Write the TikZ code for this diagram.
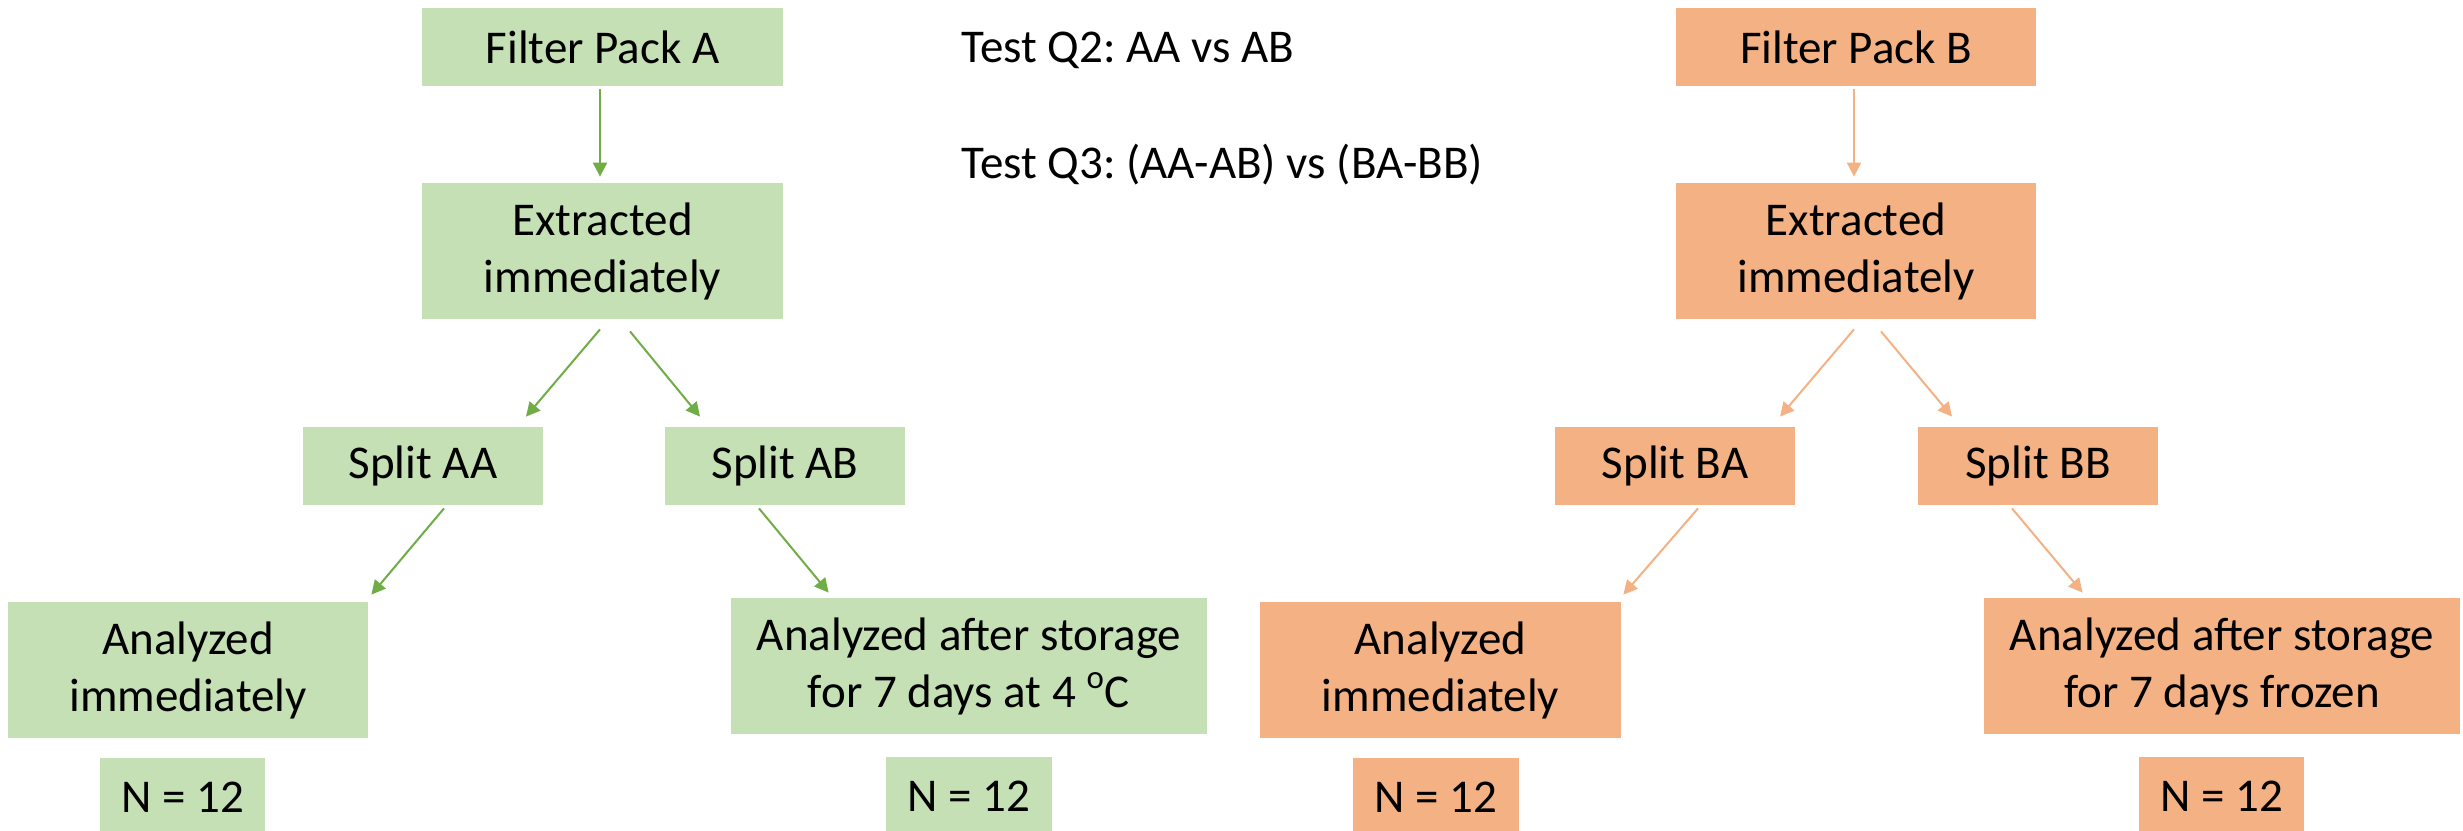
\documentclass[tikz,border=0pt]{standalone}
\usepackage{fontspec}
\setmainfont{Carlito}
\frenchspacing
\usetikzlibrary{arrows.meta}
\definecolor{gfill}{HTML}{C5E0B4}
\definecolor{garrow}{HTML}{70AD47}
\definecolor{ofill}{HTML}{F4B183}
\definecolor{oarrow}{HTML}{F4B183}
\begin{document}
\begin{tikzpicture}[x=0.5pt,y=-0.5pt,
  every node/.style={font=\fontsize{23.5}{28.5}\selectfont\frenchspacing, inner sep=0pt, align=center},
  gbox/.style={fill=gfill, minimum height=39pt},
  obox/.style={fill=ofill, minimum height=39pt},
  tall/.style={minimum height=68pt},
  garr/.style={draw=garrow, line width=1pt, -{Triangle[length=7pt,width=7pt]}},
  oarr/.style={draw=oarrow, line width=1pt, -{Triangle[length=7pt,width=7pt]}}]
\clip (0,0) rectangle (2463,830);
\fill[white] (0,0) rectangle (2463,830);
% Left (A) side
\node[gbox, minimum width=180.5pt] (FPA) at (602.5,47) {Filter Pack A};
\node[gbox, tall, minimum width=180.5pt] (ExA) at (602.5,251) {Extracted\\immediately};
\node[gbox, minimum width=120pt] (SAA) at (423,466) {Split AA};
\node[gbox, minimum width=120pt] (SAB) at (785,466) {Split AB};
\node[gbox, tall, minimum width=180pt] (AIA) at (188,670) {Analyzed\\immediately};
\node[gbox, tall, minimum width=238pt] (ASA) at (969,666) {Analyzed after storage\\for 7 days at 4 \textsuperscript{o}C};
\node[gbox, minimum width=82.5pt] (NA1) at (182.5,797) {N = 12};
\node[gbox, minimum width=83pt] (NA2) at (969,796) {N = 12};
% Right (B) side
\node[obox, minimum width=180pt] (FPB) at (1856,47) {Filter Pack B};
\node[obox, tall, minimum width=180pt] (ExB) at (1856,251) {Extracted\\immediately};
\node[obox, minimum width=120pt] (SBA) at (1675,466) {Split BA};
\node[obox, minimum width=120pt] (SBB) at (2038,466) {Split BB};
\node[obox, tall, minimum width=180.5pt] (AIB) at (1440.5,670) {Analyzed\\immediately};
\node[obox, tall, minimum width=238pt] (ASB) at (2222,666) {Analyzed after storage\\for 7 days frozen};
\node[obox, minimum width=83pt] (NB1) at (1436,797) {N = 12};
\node[obox, minimum width=82.5pt] (NB2) at (2221.5,796) {N = 12};
% Test texts
\node[anchor=base west] (Q2) at (961,62) {Test Q2: AA vs AB};
\node[anchor=base west] (Q3) at (961,178) {Test Q3: (AA-AB) vs (BA-BB)};
% Arrows A
\draw[garr] ([shift={(-2.5,3)}]FPA.south) -- ([shift={(-2.5,-6)}]ExA.north);
\draw[garr] ([shift={(-2.5,10)}]ExA.south) -- ([shift={(103,-10)}]SAA.north);
\draw[garr] ([shift={(27.5,12)}]ExA.south) -- ([shift={(-85,-10)}]SAB.north);
\draw[garr] ([shift={(21,3)}]SAA.south) -- ([shift={(3,-7)}]AIA.north east);
\draw[garr] ([shift={(-26,3)}]SAB.south) -- ([shift={(98,-5)}]ASA.north west);
% Arrows B
\draw[oarr] ([shift={(-2,3)}]FPB.south) -- ([shift={(-2,-6)}]ExB.north);
\draw[oarr] ([shift={(-2,10)}]ExB.south) -- ([shift={(105,-10)}]SBA.north);
\draw[oarr] ([shift={(25,12)}]ExB.south) -- ([shift={(-86,-10)}]SBB.north);
\draw[oarr] ([shift={(23,3)}]SBA.south) -- ([shift={(2,-7)}]AIB.north east);
\draw[oarr] ([shift={(-26,3)}]SBB.south) -- ([shift={(99,-5)}]ASB.north west);
\end{tikzpicture}
\end{document}
